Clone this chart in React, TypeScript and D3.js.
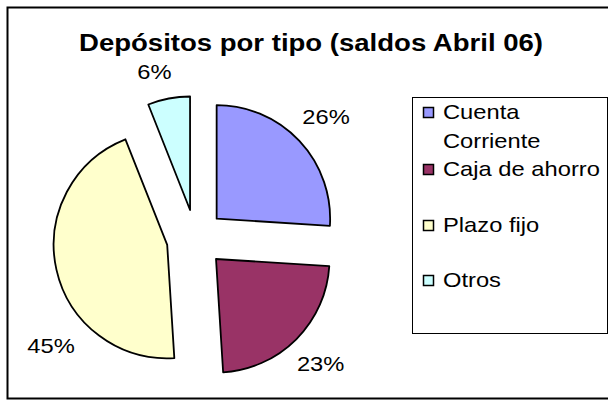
import React from 'react';
import * as d3 from 'd3';

const categories = ['Cuenta Corriente', 'Caja de ahorro', 'Plazo fijo', 'Otros'];
const legendLines = [['Cuenta', 'Corriente'], ['Caja de ahorro'], ['Plazo fijo'], ['Otros']];
const values = [26, 23, 45, 6];
const colors = ['#9999FF', '#993366', '#FFFFCC', '#CCFFFF'];
const title = 'Depósitos por tipo (saldos Abril 06)';

const W = 608;
const H = 401;
const FONT = '"Liberation Sans", Arial, sans-serif';

export default function App() {
  const cx = 195.5;
  const cy = 238.5;
  const R = 113.5;
  const explode = 29;
  const sx = 1.13;

  const pie = d3.pie<number>().sort(null).value((d) => d)(values);
  const arc = d3.arc<d3.PieArcDatum<number>>().innerRadius(0).outerRadius(R);
  const total = d3.sum(values);

  // label placement tweaks (layout), degrees and radius
  const labelLayout = [
    { da: 0, r: 179 },
    { da: 0, r: 177 },
    { da: -24, r: 180 },
    { da: -3, r: 172 },
  ];

  const deg = Math.PI / 180;

  const legendX = 412.5;
  const legendY = 97.5;
  const legendW = 195;
  const legendH = 236;
  const entryBaselines = [119, 176, 232, 287];

  return (
    <svg
      width={W}
      height={H}
      style={{ position: 'absolute', left: 0, top: 0, background: '#fff' }}
      fontFamily={FONT}
    >
      <rect x={0} y={0} width={W} height={H} fill="#fff" />
      <rect x={7.5} y={7.5} width={640} height={391} fill="#fff" stroke="#000" strokeWidth={2} />
      <text
        x={311}
        y={51}
        textAnchor="middle"
        fontSize={23}
        fontWeight="bold"
        textLength={464}
        lengthAdjust="spacingAndGlyphs"
        fill="#000"
      >
        {title}
      </text>

      {pie.map((p, i) => {
        const mid = (p.startAngle + p.endAngle) / 2;
        const dx = Math.sin(mid) * explode;
        const dy = -Math.cos(mid) * explode;
        return (
          <path
            key={categories[i]}
            d={arc(p) || ''}
            transform={`translate(${cx + dx},${cy + dy})`}
            fill={colors[i]}
            stroke="#000"
            strokeWidth={1.8}
            strokeLinejoin="round"
          />
        );
      })}

      {pie.map((p, i) => {
        const mid = (p.startAngle + p.endAngle) / 2 + labelLayout[i].da * deg;
        const r = labelLayout[i].r;
        const x = cx + Math.sin(mid) * r;
        const y = cy - Math.cos(mid) * r;
        return (
          <text
            key={'l' + i}
            transform={`translate(${x},${y}) scale(${sx},1)`}
            textAnchor="middle"
            dy="0.36em"
            fontSize={21}
            fill="#000"
          >
            {Math.round((p.value / total) * 100) + '%'}
          </text>
        );
      })}

      <rect x={legendX} y={legendY} width={legendW} height={legendH} fill="#fff" stroke="#000" strokeWidth={1} />
      {categories.map((c, i) => {
        const by = entryBaselines[i];
        return (
          <g key={'lg' + i}>
            <rect x={423.5} y={by - 11.5} width={10} height={10} fill={colors[i]} stroke="#000" strokeWidth={1.5} />
            {legendLines[i].map((line, j) => (
              <text
                key={j}
                transform={`translate(443,${by + j * 29}) scale(${sx},1)`}
                fontSize={21}
                fill="#000"
              >
                {line}
              </text>
            ))}
          </g>
        );
      })}
    </svg>
  );
}
